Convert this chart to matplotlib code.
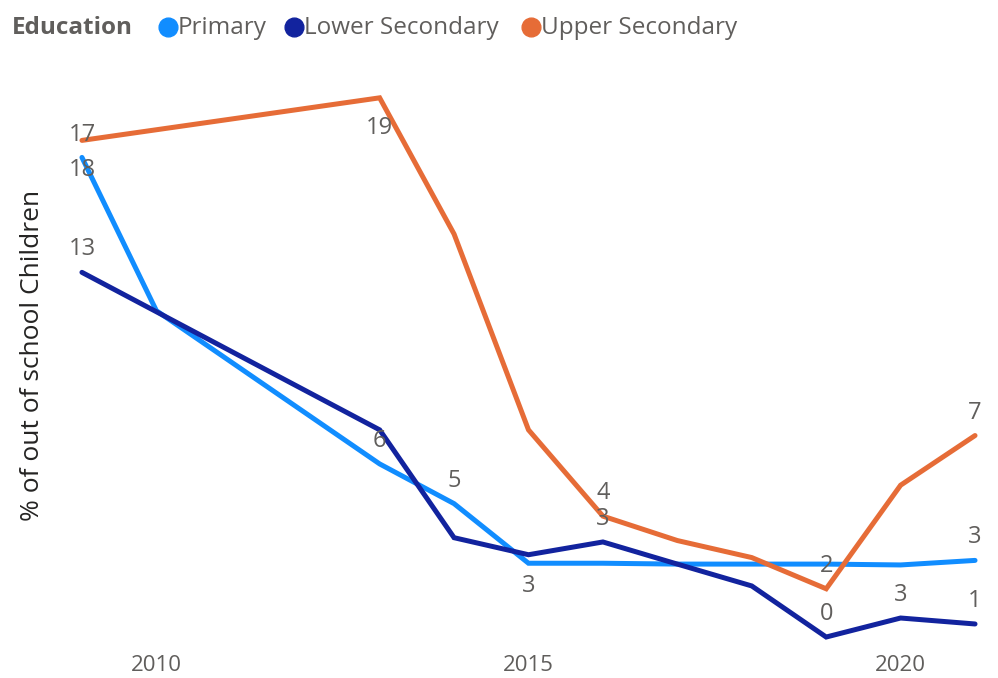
import matplotlib.pyplot as plt
from matplotlib.lines import Line2D

plt.rcParams['font.family'] = ['Open Sans', 'DejaVu Sans']

# Data (years with observations per series)
years_primary = [2009, 2010, 2013, 2014, 2015, 2016, 2017, 2018, 2019, 2020, 2021]
primary = [16.9, 11.5, 6.1, 4.7, 2.6, 2.6, 2.57, 2.57, 2.57, 2.54, 2.7]

years_other = [2009, 2013, 2014, 2015, 2016, 2017, 2018, 2019, 2020, 2021]
lower_secondary = [12.85, 7.3, 3.5, 2.9, 3.35, 2.57, 1.8, 0.0, 0.67, 0.46]
upper_secondary = [17.5, 19.0, 14.2, 7.3, 4.26, 3.4, 2.8, 1.7, 5.35, 7.1]

# Data labels shown on the chart (year -> text)
primary_labels = {2009: '18', 2013: '6', 2014: '5', 2015: '3', 2021: '3'}
lower_labels = {2009: '13', 2016: '3', 2019: '0', 2020: '3', 2021: '1'}
upper_labels = {2009: '17', 2013: '19', 2016: '4', 2019: '2', 2021: '7'}

# Label offsets in pixels (default above the point)
label_offsets = {
    ('Primary', 2009): -13, ('Primary', 2015): -23,
    ('Upper', 2009): 5, ('Upper', 2013): -30,
}

c_primary = '#118DFF'
c_lower = '#12239E'
c_upper = '#E66C37'
txt = '#605E5C'

fig = plt.figure(figsize=(9.98, 6.78), dpi=100)
ax = fig.add_axes([0.0672, 0.0395, 0.9247, 0.879])

series = [
    ('Primary', years_primary, primary, primary_labels, c_primary),
    ('Lower', years_other, lower_secondary, lower_labels, c_lower),
    ('Upper', years_other, upper_secondary, upper_labels, c_upper),
]

for name, xs, ys, labels, col in series:
    ax.plot(xs, ys, color=col, lw=3.6, solid_joinstyle='miter', solid_capstyle='round')

for name, xs, ys, labels, col in series:
    for yr, lab in labels.items():
        y = ys[xs.index(yr)]
        off = label_offsets.get((name, yr), 23)
        ax.annotate(lab, (yr, y), xytext=(0, off), textcoords='offset pixels',
                    ha='center', va='center', fontsize=17, color=txt)

ax.set_xlim(2008.8, 2021.2)
ax.set_ylim(-0.5, 20.5)
ax.set_xticks([2010, 2015, 2020])
ax.set_yticks([])
ax.tick_params(axis='x', length=0, labelsize=16, labelcolor=txt, pad=3)
for s in ax.spines.values():
    s.set_visible(False)

fig.text(0.033, 0.476, '% of out of school Children', rotation=90, ha='center',
         va='center', fontsize=19, color='#252423')

# Legend
ly = 1 - 28 / 678
fig.text(12 / 998, ly, 'Education', fontsize=17.5, fontweight='bold', color=txt,
         ha='left', va='center')
for cx, label, col in [(168, 'Primary', c_primary), (294, 'Lower Secondary', c_lower),
                       (531, 'Upper Secondary', c_upper)]:
    fig.add_artist(Line2D([cx / 998], [ly + 1 / 678], marker='o', markersize=13.5, color=col,
                          linestyle='none', transform=fig.transFigure))
    fig.text((cx + 10) / 998, ly, label, fontsize=17.5, color=txt, ha='left', va='center')

fig.savefig('out.png', dpi=100)
